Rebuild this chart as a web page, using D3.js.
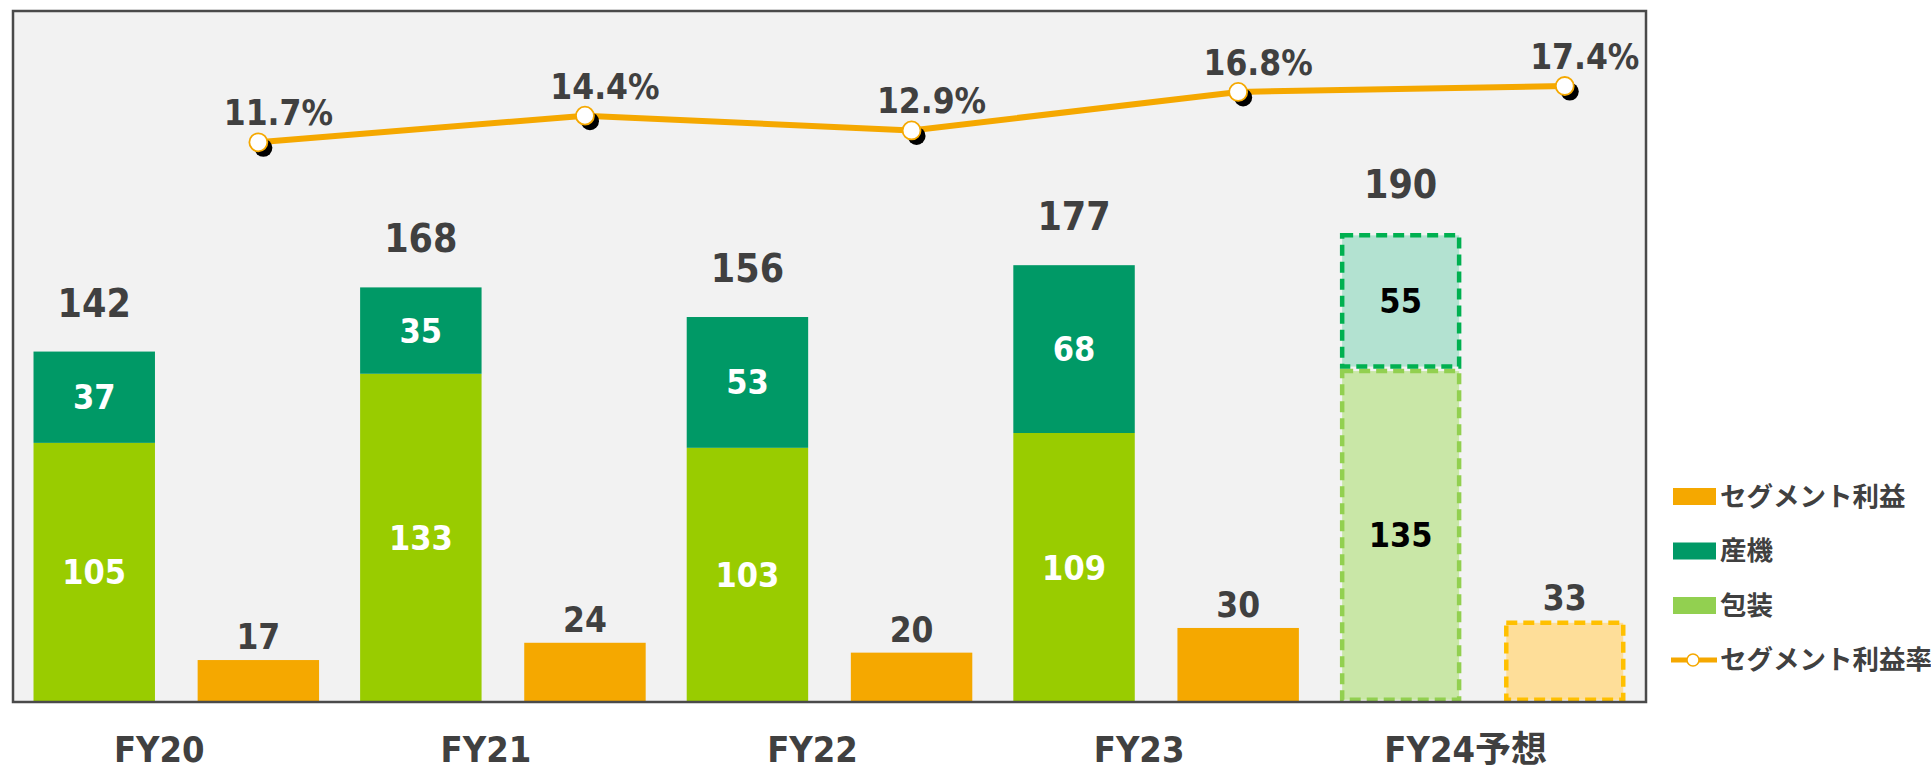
<!DOCTYPE html>
<html lang="ja">
<head>
<meta charset="utf-8">
<script src="https://cdn.jsdelivr.net/npm/d3@7/dist/d3.min.js"></script>
<style>
    body { margin: 0; background: #ffffff; }
    text {
        font-family: "DejaVu Sans Condensed", "DejaVu Sans", "Noto Sans CJK JP", sans-serif;
        font-stretch: condensed;
        font-weight: bold;
    }
</style>
</head>
<body>
<div id="canvas"></div>
<script>
"use strict"

/*** DATA ***/
let categories = ["FY20", "FY21", "FY22", "FY23", "FY24予想"]
let packaging = [105, 133, 103, 109, 135]          // 包装
let industrial = [37, 35, 53, 68, 55]              // 産機
let totals = [142, 168, 156, 177, 190]
let segmentProfit = [17, 24, 20, 30, 33]           // セグメント利益
let profitRate = [11.7, 14.4, 12.9, 16.8, 17.4]    // セグメント利益率 (%)
let forecast = [false, false, false, false, true]
let legendLabels = ["セグメント利益", "産機", "包装", "セグメント利益率"]

/*** CANVAS SETUP ***/
let svgWidth = 1931
let svgHeight = 771

let plot = {
    left: 13,
    right: 1646,
    top: 11,
    bottom: 702
}

let colors = {
    packaging: "#99CC00",
    industrial: "#009966",
    profit: "#F5A800",
    text: "#404040",
    packagingFc: "#C9E7A7",
    packagingFcLine: "#92D050",
    industrialFc: "#B3E2D1",
    industrialFcLine: "#00B050",
    profitFc: "#FEDE99",
    profitFcLine: "#FFC000",
    legendPackaging: "#92D050"
}

let svg = d3.select("#canvas")
    .append("svg")
    .attr("width", svgWidth)
    .attr("height", svgHeight)

/* plot area background */
svg.append("rect")
    .attr("x", plot.left)
    .attr("y", plot.top)
    .attr("width", plot.right - plot.left)
    .attr("height", plot.bottom - plot.top)
    .attr("fill", "#F2F2F2")

/*** SCALES ***/
let xScale = d3.scaleBand()
    .domain(categories)
    .range([plot.left, plot.right])

let subScale = d3.scaleBand()
    .domain(["sales", "profit"])
    .range([0, xScale.bandwidth()])
    .paddingInner(0.26)
    .paddingOuter(0.125)

let yScale = d3.scaleLinear()
    .domain([0, 280])
    .range([plot.bottom, plot.top])

let rateScale = d3.scaleLinear()        // secondary axis, in %
    .domain([-45, 25])
    .range([plot.bottom, plot.top])

let rows = categories.map(function (c, i) {
    return {
        cat: c,
        packaging: packaging[i],
        industrial: industrial[i],
        total: totals[i],
        profit: segmentProfit[i],
        rate: profitRate[i],
        forecast: forecast[i]
    }
})

function salesX(d) { return xScale(d.cat) + subScale("sales") }
function profitX(d) { return xScale(d.cat) + subScale("profit") }
let bw = subScale.bandwidth()

/*** STACKED BARS (包装 + 産機) ***/
let stack = d3.stack().keys(["packaging", "industrial"])
let series = stack(rows)

let dashW = 4.5

series.forEach(function (s) {
    let key = s.key
    let g = svg.append("g")

    g.selectAll("rect")
        .data(s)
        .join("rect")
        .attr("x", function (d) { return salesX(d.data) + (d.data.forecast ? dashW / 2 : 0) })
        .attr("y", function (d) { return yScale(d[1]) + (d.data.forecast ? dashW / 2 : 0) })
        .attr("width", function (d) { return bw - (d.data.forecast ? dashW : 0) })
        .attr("height", function (d) { return yScale(d[0]) - yScale(d[1]) - (d.data.forecast ? dashW : 0) })
        .attr("fill", function (d) { return d.data.forecast ? colors[key + "Fc"] : colors[key] })
        .attr("stroke", function (d) { return d.data.forecast ? colors[key + "FcLine"] : "none" })
        .attr("stroke-width", dashW)
        .attr("stroke-dasharray", "11,6")

    /* value inside each segment */
    g.selectAll("text")
        .data(s)
        .join("text")
        .attr("x", function (d) { return salesX(d.data) + bw / 2 })
        .attr("y", function (d) { return (yScale(d[0]) + yScale(d[1])) / 2 + 12 })
        .attr("text-anchor", "middle")
        .attr("font-size", "34px")
        .attr("fill", function (d) { return d.data.forecast ? "#000000" : "#ffffff" })
        .text(function (d) { return d.data[key] })
})

/* totals above stacked bars */
svg.append("g")
    .selectAll("text")
    .data(rows)
    .join("text")
    .attr("x", function (d) { return salesX(d) + bw / 2 })
    .attr("y", function (d) { return yScale(d.total) - 35 })
    .attr("text-anchor", "middle")
    .attr("font-size", "39px")
    .attr("fill", colors.text)
    .text(function (d) { return d.total })

/*** SEGMENT PROFIT BARS ***/
let profitG = svg.append("g")

profitG.selectAll("rect")
    .data(rows)
    .join("rect")
    .attr("x", function (d) { return profitX(d) + (d.forecast ? dashW / 2 : 0) })
    .attr("y", function (d) { return yScale(d.profit) + (d.forecast ? dashW / 2 : 0) })
    .attr("width", function (d) { return bw - (d.forecast ? dashW : 0) })
    .attr("height", function (d) { return yScale(0) - yScale(d.profit) - (d.forecast ? dashW : 0) })
    .attr("fill", function (d) { return d.forecast ? colors.profitFc : colors.profit })
    .attr("stroke", function (d) { return d.forecast ? colors.profitFcLine : "none" })
    .attr("stroke-width", dashW)
    .attr("stroke-dasharray", "11,6")

profitG.selectAll("text")
    .data(rows)
    .join("text")
    .attr("x", function (d) { return profitX(d) + bw / 2 })
    .attr("y", function (d) { return yScale(d.profit) - 11 })
    .attr("text-anchor", "middle")
    .attr("font-size", "35px")
    .attr("fill", colors.text)
    .text(function (d) { return d.profit })

/* plot border on top of bars */
svg.append("rect")
    .attr("x", plot.left)
    .attr("y", plot.top)
    .attr("width", plot.right - plot.left)
    .attr("height", plot.bottom - plot.top)
    .attr("fill", "none")
    .attr("stroke", "#4A4A4A")
    .attr("stroke-width", 2.5)

/*** PROFIT RATE LINE ***/
let line = d3.line()
    .x(function (d) { return profitX(d) + bw / 2 })
    .y(function (d) { return rateScale(d.rate) })

let rateG = svg.append("g")

rateG.append("path")
    .datum(rows)
    .attr("d", line)
    .attr("fill", "none")
    .attr("stroke", colors.profit)
    .attr("stroke-width", 6)

/* marker shadow */
rateG.selectAll("circle.shadow")
    .data(rows)
    .join("circle")
    .attr("class", "shadow")
    .attr("cx", function (d) { return profitX(d) + bw / 2 + 5 })
    .attr("cy", function (d) { return rateScale(d.rate) + 5.5 })
    .attr("r", 9)
    .attr("fill", "#000000")

rateG.selectAll("circle.marker")
    .data(rows)
    .join("circle")
    .attr("class", "marker")
    .attr("cx", function (d) { return profitX(d) + bw / 2 })
    .attr("cy", function (d) { return rateScale(d.rate) })
    .attr("r", 9)
    .attr("fill", "#ffffff")
    .attr("stroke", colors.profit)
    .attr("stroke-width", 1.8)

rateG.selectAll("text")
    .data(rows)
    .join("text")
    .attr("x", function (d) { return profitX(d) + bw / 2 + 20 })
    .attr("y", function (d) { return rateScale(d.rate) - 17 })
    .attr("text-anchor", "middle")
    .attr("font-size", "35px")
    .attr("fill", colors.text)
    .text(function (d) { return d.rate.toFixed(1) + "%" })

/*** CATEGORY LABELS ***/
svg.append("g")
    .selectAll("text")
    .data(categories)
    .join("text")
    .attr("x", function (d) { return xScale(d) + xScale.bandwidth() / 2 - 17 })
    .attr("y", 762)
    .attr("text-anchor", "middle")
    .attr("font-size", "36px")
    .attr("fill", colors.text)
    .text(function (d) { return d })

/*** LEGEND ***/
let legend = svg.append("g")
let legendX = 1673
let legendY = 496.5
let legendStep = 54.5
let swatchColors = [colors.profit, colors.industrial, colors.legendPackaging]

legend.selectAll("rect")
    .data(swatchColors)
    .join("rect")
    .attr("x", legendX)
    .attr("y", function (d, i) { return legendY + i * legendStep - 8.5 })
    .attr("width", 43)
    .attr("height", 17)
    .attr("fill", function (d) { return d })

/* line + marker swatch */
let lineY = legendY + 3 * legendStep
legend.append("line")
    .attr("x1", legendX - 2)
    .attr("x2", legendX + 44)
    .attr("y1", lineY)
    .attr("y2", lineY)
    .attr("stroke", colors.profit)
    .attr("stroke-width", 5)

legend.append("circle")
    .attr("cx", legendX + 20)
    .attr("cy", lineY)
    .attr("r", 6)
    .attr("fill", "#ffffff")
    .attr("stroke", colors.profit)
    .attr("stroke-width", 1.5)

legend.selectAll("text")
    .data(legendLabels)
    .join("text")
    .attr("x", legendX + 47)
    .attr("y", function (d, i) { return legendY + i * legendStep + 9 })
    .attr("font-family", "'Noto Sans CJK JP', sans-serif")
    .attr("font-size", "26.5px")
    .attr("fill", colors.text)
    .text(function (d) { return d })
</script>
</body>
</html>
